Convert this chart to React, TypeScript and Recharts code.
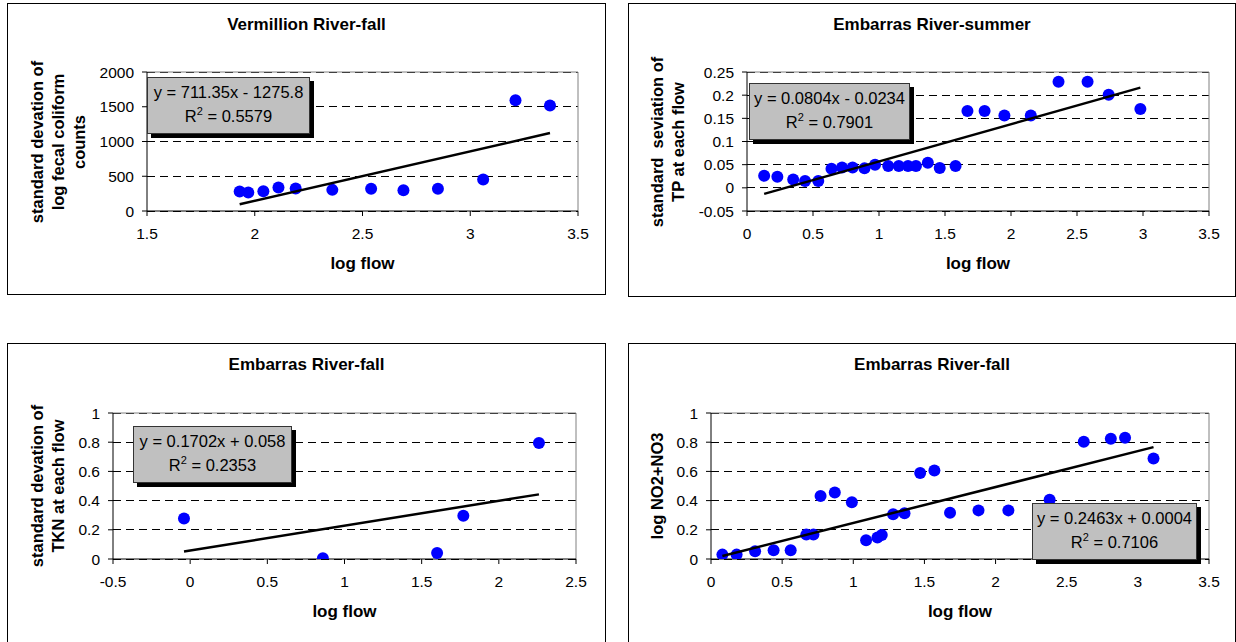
import React from 'react';
import { ScatterChart, Scatter, XAxis, YAxis, CartesianGrid, ReferenceLine } from 'recharts';

// Vermillion River - fall (fecal coliform)
const vermFlow = [1.93, 1.97, 2.04, 2.11, 2.19, 2.36, 2.54, 2.69, 2.85, 3.06, 3.21, 3.37];
const vermSd = [280, 265, 285, 338, 323, 304, 319, 300, 319, 454, 1594, 1517];

// Embarras River - summer (TP)
const embSumFlow = [
  0.13, 0.23, 0.35, 0.44, 0.54, 0.64, 0.72, 0.8, 0.89, 0.97, 1.07, 1.15, 1.22,
  1.28, 1.37, 1.46, 1.58, 1.67, 1.8, 1.95, 2.15, 2.36, 2.58, 2.74, 2.98,
];
const embSumSd = [
  0.026, 0.024, 0.018, 0.015, 0.015, 0.041, 0.044, 0.044, 0.042, 0.05, 0.047, 0.047, 0.047,
  0.047, 0.054, 0.043, 0.047, 0.166, 0.166, 0.156, 0.156, 0.229, 0.229, 0.201, 0.17,
];

// Embarras River - fall (TKN)
const embFallTknFlow = [-0.04, 0.86, 1.6, 1.77, 2.26];
const embFallTknSd = [0.278, 0.005, 0.041, 0.296, 0.794];

// Embarras River - fall (NO2+NO3)
const embFallNoFlow = [
  0.08, 0.18, 0.31, 0.44, 0.56, 0.67, 0.72, 0.77, 0.87, 0.99, 1.09, 1.17, 1.2,
  1.28, 1.36, 1.47, 1.57, 1.68, 1.88, 2.09, 2.38, 2.62, 2.81, 2.91, 3.11,
];
const embFallNo = [
  0.03, 0.03, 0.053, 0.06, 0.06, 0.167, 0.167, 0.431, 0.456, 0.388, 0.128, 0.147, 0.165,
  0.307, 0.314, 0.589, 0.606, 0.317, 0.333, 0.333, 0.406, 0.803, 0.823, 0.83, 0.688,
];

const xTicksA = [1.5, 2, 2.5, 3, 3.5];
const yTicksA = [0, 500, 1000, 1500, 2000];
const xTicksB = [0, 0.5, 1, 1.5, 2, 2.5, 3, 3.5];
const yTicksB = [-0.05, 0, 0.05, 0.1, 0.15, 0.2, 0.25];
const xTicksC = [-0.5, 0, 0.5, 1, 1.5, 2, 2.5];
const yTicksC = [0, 0.2, 0.4, 0.6, 0.8, 1];

const FONT = '"Liberation Sans", Arial, sans-serif';
const Y_AXIS_W = 60;
const X_AXIS_H = 40;

const toPoints = (xs: number[], ys: number[]) => xs.map((x, i) => ({ x, y: ys[i] }));

const trend = (xs: number[], slope: number, intercept: number) => {
  const lo = Math.min(...xs);
  const hi = Math.max(...xs);
  return [
    { x: lo, y: slope * lo + intercept },
    { x: hi, y: slope * hi + intercept },
  ];
};

const Dot = (props: any) => <circle cx={props.cx} cy={props.cy} r={6} fill="#0000ff" />;
const NoDot = () => <g />;

interface PanelProps {
  box: { left: number; top: number; width: number; height: number };
  plot: { x0: number; x1: number; y0: number; y1: number };
  title: string;
  yLabel: string[];
  yLabelX: number[];
  data: { x: number; y: number }[];
  fit: { x: number; y: number }[];
  xTicks: number[];
  yTicks: number[];
  eq: { left: number; top: number; width: number; height: number; line1: string; r2: string };
}

const Panel: React.FC<PanelProps> = ({ box, plot, title, yLabel, yLabelX, data, fit, xTicks, yTicks, eq }) => {
  const xMin = xTicks[0];
  const xMax = xTicks[xTicks.length - 1];
  const yMin = yTicks[0];
  const yMax = yTicks[yTicks.length - 1];
  const midX = (plot.x0 + plot.x1) / 2;
  const midY = (plot.y0 + plot.y1) / 2;
  const tickStyle = { fill: '#000', fontSize: 15.5, fontFamily: FONT };
  return (
    <>
      <div style={{ position: 'absolute', left: box.left, top: box.top }}>
        <ScatterChart
          width={box.width}
          height={box.height}
          margin={{
            top: plot.y0 - box.top,
            bottom: box.top + box.height - plot.y1 - X_AXIS_H,
            left: plot.x0 - box.left - Y_AXIS_W,
            right: box.left + box.width - plot.x1,
          }}
        >
          <CartesianGrid
            horizontal
            vertical={false}
            stroke="#000"
            strokeDasharray="8 5"
            shapeRendering="crispEdges"
          />
          <XAxis
            type="number"
            dataKey="x"
            domain={[xMin, xMax]}
            ticks={xTicks}
            allowDataOverflow
            height={X_AXIS_H}
            tickSize={5}
            tickMargin={12}
            stroke="#000"
            tick={tickStyle}
          />
          <YAxis
            type="number"
            dataKey="y"
            domain={[yMin, yMax]}
            ticks={yTicks}
            allowDataOverflow
            width={Y_AXIS_W}
            tickSize={5}
            tickMargin={8}
            stroke="#000"
            tick={tickStyle}
          />
          <ReferenceLine y={yMax} stroke="#808080" strokeWidth={1} />
          <ReferenceLine x={xMax} stroke="#808080" strokeWidth={1} />
          <Scatter data={data} shape={Dot} isAnimationActive={false} />
          <Scatter
            data={fit}
            shape={NoDot}
            line={{ stroke: '#000', strokeWidth: 2.5 }}
            isAnimationActive={false}
          />
        </ScatterChart>
      </div>
      <div
        style={{
          position: 'absolute',
          left: box.left,
          top: box.top,
          width: box.width,
          height: box.height,
          border: '1px solid #000',
          boxSizing: 'border-box',
          pointerEvents: 'none',
        }}
      />
      <div
        style={{
          position: 'absolute',
          left: box.left,
          width: box.width,
          top: box.top + 12,
          lineHeight: '20px',
          textAlign: 'center',
          fontFamily: FONT,
          fontWeight: 'bold',
          fontSize: 17,
        }}
      >
        {title}
      </div>
      <div
        style={{
          position: 'absolute',
          left: midX - 100,
          width: 200,
          top: plot.y1 + 43,
          lineHeight: '20px',
          textAlign: 'center',
          fontFamily: FONT,
          fontWeight: 'bold',
          fontSize: 17,
        }}
      >
        log flow
      </div>
      {yLabel.map((line, i) => (
        <div
          key={line}
          style={{
            position: 'absolute',
            left: yLabelX[i] - 150,
            top: midY - 10,
            width: 300,
            height: 20,
            lineHeight: '20px',
            textAlign: 'center',
            fontFamily: FONT,
            fontWeight: 'bold',
            fontSize: 16.5,
            transform: 'rotate(-90deg)',
            whiteSpace: 'pre',
          }}
        >
          {line}
        </div>
      ))}
      <div
        style={{
          position: 'absolute',
          left: eq.left + 4,
          top: eq.top + 4,
          width: eq.width,
          height: eq.height,
          background: '#000',
        }}
      />
      <div
        style={{
          position: 'absolute',
          left: eq.left,
          top: eq.top,
          width: eq.width,
          height: eq.height,
          background: '#c0c0c0',
          border: '1px solid #333',
          boxSizing: 'border-box',
          fontFamily: FONT,
          fontSize: 16.5,
          textAlign: 'center',
          lineHeight: '24px',
          paddingTop: 2,
          whiteSpace: 'nowrap',
        }}
      >
        <div>{eq.line1}</div>
        <div>
          R<sup style={{ fontSize: 11, verticalAlign: 7, lineHeight: 0 }}>2</sup> = {eq.r2}
        </div>
      </div>
    </>
  );
};

export default function App() {
  return (
    <div
      style={{
        position: 'absolute',
        left: 0,
        top: 0,
        width: 1236,
        height: 642,
        overflow: 'hidden',
        background: '#fff',
      }}
    >
      <Panel
        box={{ left: 7, top: 3, width: 599, height: 292 }}
        plot={{ x0: 147, x1: 578, y0: 72, y1: 211 }}
        title="Vermillion River-fall"
        yLabel={['standard devation of', 'log fecal coliform', 'counts']}
        yLabelX={[37, 58, 79]}
        data={toPoints(vermFlow, vermSd)}
        fit={trend(vermFlow, 711.35, -1275.8)}
        xTicks={xTicksA}
        yTicks={yTicksA}
        eq={{ left: 147, top: 77, width: 163, height: 57, line1: 'y = 711.35x - 1275.8', r2: '0.5579' }}
      />
      <Panel
        box={{ left: 628, top: 3, width: 608, height: 294 }}
        plot={{ x0: 747, x1: 1209, y0: 72, y1: 211 }}
        title="Embarras River-summer"
        yLabel={['standard  seviation of', 'TP at each flow']}
        yLabelX={[657, 678]}
        data={toPoints(embSumFlow, embSumSd)}
        fit={trend(embSumFlow, 0.0804, -0.0234)}
        xTicks={xTicksB}
        yTicks={yTicksB}
        eq={{ left: 749, top: 83, width: 161, height: 57, line1: 'y = 0.0804x - 0.0234', r2: '0.7901' }}
      />
      <Panel
        box={{ left: 7, top: 343, width: 599, height: 320 }}
        plot={{ x0: 113, x1: 576, y0: 413, y1: 559 }}
        title="Embarras River-fall"
        yLabel={['standard devation of', 'TKN at each flow']}
        yLabelX={[37, 58]}
        data={toPoints(embFallTknFlow, embFallTknSd)}
        fit={trend(embFallTknFlow, 0.1702, 0.058)}
        xTicks={xTicksC}
        yTicks={yTicksC}
        eq={{ left: 133, top: 426, width: 159, height: 57, line1: 'y = 0.1702x + 0.058', r2: '0.2353' }}
      />
      <Panel
        box={{ left: 628, top: 343, width: 608, height: 320 }}
        plot={{ x0: 711, x1: 1209, y0: 413, y1: 559 }}
        title="Embarras River-fall"
        yLabel={['log NO2+NO3']}
        yLabelX={[657]}
        data={toPoints(embFallNoFlow, embFallNo)}
        fit={trend(embFallNoFlow, 0.2463, 0.0004)}
        xTicks={xTicksB}
        yTicks={yTicksC}
        eq={{ left: 1032, top: 503, width: 165, height: 57, line1: 'y = 0.2463x + 0.0004', r2: '0.7106' }}
      />
    </div>
  );
}
